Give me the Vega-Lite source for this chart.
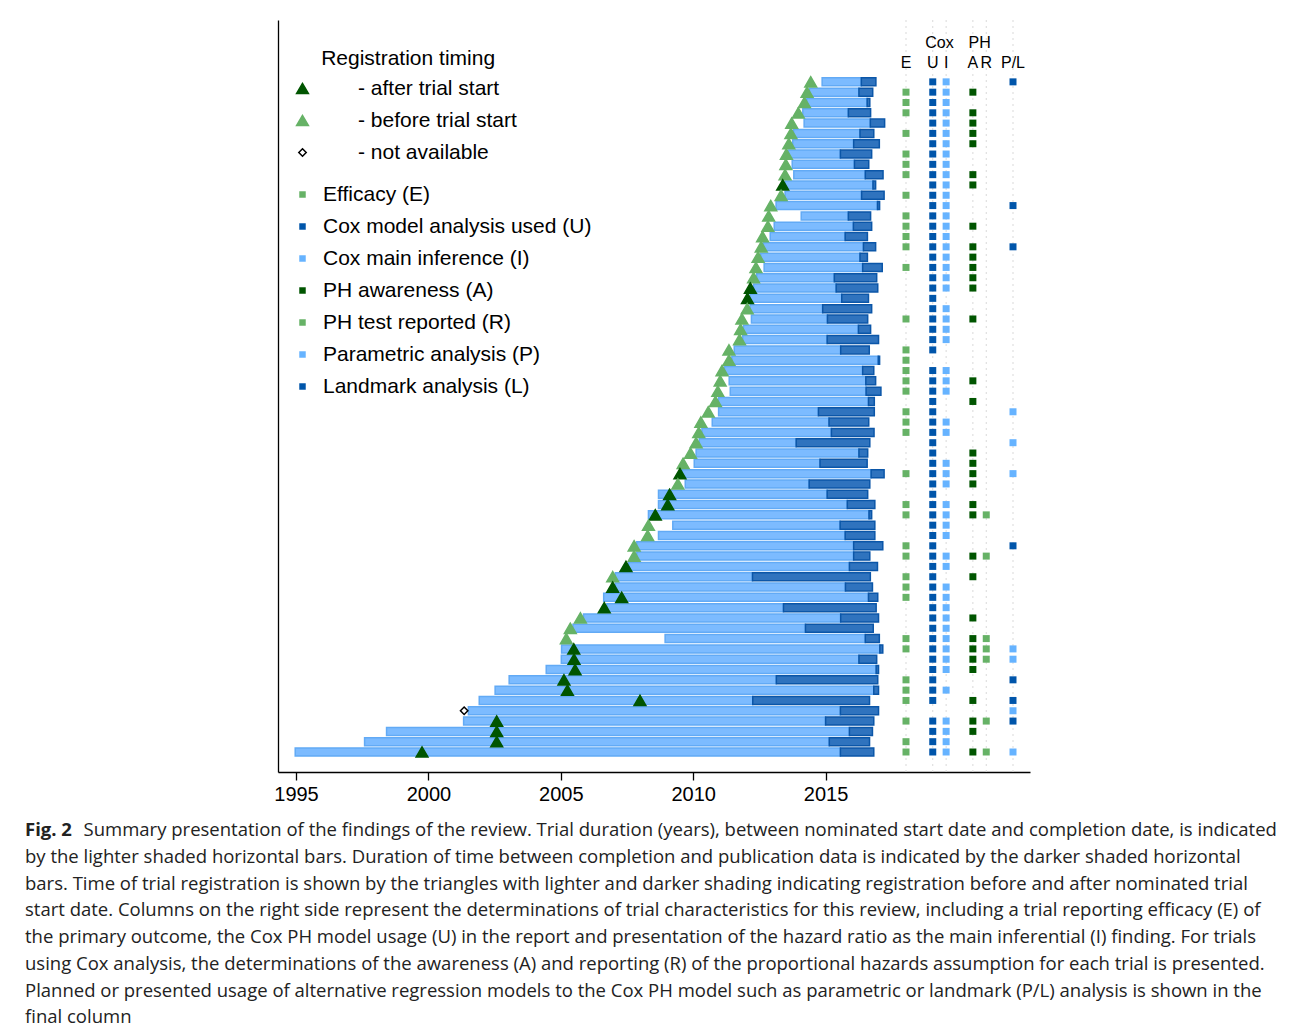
{
  "$schema": "https://vega.github.io/schema/vega-lite/v6.json",
  "width": 752,
  "height": 752,
  "autosize": {"type": "none"},
  "padding": {"left": 278, "top": 20, "right": 262, "bottom": 261},
  "config": {
    "view": {"stroke": null},
    "font": "Liberation Sans"
  },
  "title": {
    "text": "Fig. 2",
    "subtitle": [
      "\u200b\u2003\u2003\u2003\u2006Summary presentation of the findings of the review. Trial duration (years), between nominated start date and completion date, is indicated",
      "by the lighter shaded horizontal bars. Duration of time between completion and publication data is indicated by the darker shaded horizontal",
      "bars. Time of trial registration is shown by the triangles with lighter and darker shading indicating registration before and after nominated trial",
      "start date. Columns on the right side represent the determinations of trial characteristics for this review, including a trial reporting efficacy (E) of",
      "the primary outcome, the Cox PH model usage (U) in the report and presentation of the hazard ratio as the main inferential (I) finding. For trials",
      "using Cox analysis, the determinations of the awareness (A) and reporting (R) of the proportional hazards assumption for each trial is presented.",
      "Planned or presented usage of alternative regression models to the Cox PH model such as parametric or landmark (P/L) analysis is shown in the",
      "final column"
    ],
    "orient": "bottom",
    "anchor": "start",
    "frame": "group",
    "dx": -253,
    "offset": 17,
    "font": "Open Sans",
    "fontSize": 18.5,
    "fontWeight": "bold",
    "color": "#222222",
    "subtitleFont": "Open Sans",
    "subtitleFontSize": 18.5,
    "subtitleColor": "#222222",
    "subtitleLineHeight": 26.75,
    "subtitlePadding": -18.5
  },
  "datasets": {
    "trials": [
      {"t":1,"s":2014.87,"c":2016.35,"p":2016.9,"r":2014.44,"reg":"before"},
      {"t":2,"s":2014.39,"c":2016.26,"p":2016.78,"r":2014.3,"reg":"before"},
      {"t":3,"s":2014.29,"c":2016.57,"p":2016.67,"r":2014.2,"reg":"before"},
      {"t":4,"s":2014.14,"c":2015.86,"p":2016.7,"r":2013.97,"reg":"before"},
      {"t":5,"s":2014.19,"c":2016.69,"p":2017.23,"r":2013.72,"reg":"before"},
      {"t":6,"s":2013.79,"c":2016.3,"p":2016.82,"r":2013.69,"reg":"before"},
      {"t":7,"s":2013.76,"c":2016.06,"p":2017.03,"r":2013.61,"reg":"before"},
      {"t":8,"s":2013.6,"c":2015.56,"p":2016.74,"r":2013.52,"reg":"before"},
      {"t":9,"s":2013.74,"c":2016.09,"p":2016.63,"r":2013.5,"reg":"before"},
      {"t":10,"s":2013.8,"c":2016.5,"p":2017.17,"r":2013.47,"reg":"before"},
      {"t":11,"s":2013.47,"c":2016.79,"p":2016.89,"r":2013.38,"reg":"after"},
      {"t":12,"s":2013.47,"c":2016.36,"p":2017.21,"r":2013.32,"reg":"before"},
      {"t":13,"s":2013.13,"c":2016.96,"p":2017.04,"r":2012.93,"reg":"before"},
      {"t":14,"s":2014.08,"c":2015.86,"p":2016.7,"r":2012.85,"reg":"before"},
      {"t":15,"s":2013.06,"c":2016.05,"p":2016.74,"r":2012.82,"reg":"before"},
      {"t":16,"s":2012.91,"c":2015.74,"p":2016.58,"r":2012.62,"reg":"before"},
      {"t":17,"s":2012.65,"c":2016.43,"p":2016.89,"r":2012.57,"reg":"before"},
      {"t":18,"s":2012.55,"c":2016.3,"p":2016.58,"r":2012.45,"reg":"before"},
      {"t":19,"s":2012.68,"c":2016.4,"p":2017.14,"r":2012.37,"reg":"before"},
      {"t":20,"s":2012.4,"c":2015.33,"p":2016.93,"r":2012.28,"reg":"before"},
      {"t":21,"s":2012.28,"c":2015.4,"p":2016.97,"r":2012.16,"reg":"after"},
      {"t":22,"s":2012.15,"c":2015.61,"p":2016.62,"r":2012.05,"reg":"after"},
      {"t":23,"s":2012.15,"c":2014.89,"p":2016.74,"r":2012.04,"reg":"before"},
      {"t":24,"s":2012.2,"c":2015.07,"p":2016.59,"r":2011.84,"reg":"before"},
      {"t":25,"s":2011.9,"c":2016.24,"p":2016.7,"r":2011.79,"reg":"before"},
      {"t":26,"s":2011.87,"c":2015.06,"p":2017.0,"r":2011.75,"reg":"before"},
      {"t":27,"s":2011.55,"c":2015.57,"p":2016.65,"r":2011.35,"reg":"before"},
      {"t":28,"s":2011.46,"c":2016.99,"p":2017.04,"r":2011.35,"reg":"before"},
      {"t":29,"s":2011.18,"c":2016.4,"p":2016.82,"r":2011.09,"reg":"before"},
      {"t":30,"s":2011.36,"c":2016.52,"p":2016.89,"r":2011.02,"reg":"before"},
      {"t":31,"s":2011.4,"c":2016.53,"p":2017.09,"r":2010.93,"reg":"before"},
      {"t":32,"s":2010.96,"c":2016.62,"p":2016.84,"r":2010.84,"reg":"before"},
      {"t":33,"s":2010.96,"c":2014.73,"p":2016.84,"r":2010.57,"reg":"before"},
      {"t":34,"s":2010.72,"c":2015.13,"p":2016.63,"r":2010.29,"reg":"before"},
      {"t":35,"s":2010.33,"c":2015.22,"p":2016.83,"r":2010.21,"reg":"before"},
      {"t":36,"s":2010.23,"c":2013.89,"p":2016.67,"r":2010.11,"reg":"before"},
      {"t":37,"s":2010.11,"c":2016.26,"p":2016.59,"r":2009.9,"reg":"before"},
      {"t":38,"s":2010.04,"c":2014.79,"p":2016.57,"r":2009.62,"reg":"before"},
      {"t":39,"s":2009.57,"c":2016.72,"p":2017.21,"r":2009.5,"reg":"after"},
      {"t":40,"s":2009.7,"c":2014.38,"p":2016.67,"r":2009.42,"reg":"before"},
      {"t":41,"s":2008.69,"c":2015.06,"p":2016.59,"r":2009.11,"reg":"after"},
      {"t":42,"s":2008.69,"c":2015.82,"p":2016.86,"r":2009.04,"reg":"after"},
      {"t":43,"s":2008.31,"c":2016.64,"p":2016.74,"r":2008.57,"reg":"after"},
      {"t":44,"s":2009.23,"c":2015.55,"p":2016.86,"r":2008.31,"reg":"before"},
      {"t":45,"s":2008.69,"c":2015.74,"p":2016.86,"r":2008.28,"reg":"before"},
      {"t":46,"s":2007.87,"c":2016.06,"p":2017.16,"r":2007.77,"reg":"before"},
      {"t":47,"s":2007.87,"c":2016.06,"p":2016.67,"r":2007.77,"reg":"before"},
      {"t":48,"s":2007.56,"c":2015.9,"p":2016.96,"r":2007.46,"reg":"after"},
      {"t":49,"s":2007.06,"c":2012.24,"p":2016.69,"r":2006.96,"reg":"before"},
      {"t":50,"s":2007.06,"c":2015.75,"p":2016.77,"r":2006.96,"reg":"after"},
      {"t":51,"s":2006.62,"c":2016.62,"p":2016.97,"r":2007.3,"reg":"after"},
      {"t":52,"s":2006.74,"c":2013.41,"p":2016.91,"r":2006.64,"reg":"after"},
      {"t":53,"s":2005.86,"c":2015.57,"p":2017.0,"r":2005.74,"reg":"before"},
      {"t":54,"s":2005.46,"c":2014.24,"p":2016.8,"r":2005.36,"reg":"before"},
      {"t":55,"s":2008.94,"c":2016.5,"p":2017.03,"r":2005.21,"reg":"before"},
      {"t":56,"s":2005.03,"c":2017.05,"p":2017.16,"r":2005.49,"reg":"after"},
      {"t":57,"s":2005.02,"c":2016.26,"p":2016.93,"r":2005.5,"reg":"after"},
      {"t":58,"s":2004.45,"c":2016.91,"p":2017.0,"r":2005.54,"reg":"after"},
      {"t":59,"s":2003.05,"c":2013.14,"p":2016.97,"r":2005.12,"reg":"after"},
      {"t":60,"s":2002.52,"c":2016.82,"p":2017.0,"r":2005.25,"reg":"after"},
      {"t":61,"s":2001.92,"c":2012.25,"p":2016.66,"r":2007.99,"reg":"after"},
      {"t":62,"s":2001.51,"c":2015.56,"p":2017.0,"r":2001.35,"reg":"na"},
      {"t":63,"s":2001.33,"c":2015.0,"p":2016.82,"r":2002.58,"reg":"after"},
      {"t":64,"s":1998.42,"c":2015.9,"p":2016.77,"r":2002.58,"reg":"after"},
      {"t":65,"s":1997.59,"c":2015.14,"p":2016.66,"r":2002.58,"reg":"after"},
      {"t":66,"s":1994.97,"c":2015.56,"p":2016.82,"r":1999.76,"reg":"after"}
    ],
    "flagtypes": [
      {"f":"E","col":"E","name":"Efficacy (E)"},
      {"f":"U","col":"U","name":"Cox model analysis used (U)"},
      {"f":"I","col":"I","name":"Cox main inference (I)"},
      {"f":"A","col":"A","name":"PH awareness (A)"},
      {"f":"R","col":"R","name":"PH test reported (R)"},
      {"f":"P","col":"P/L","name":"Parametric analysis (P)"},
      {"f":"L","col":"P/L","name":"Landmark analysis (L)"}
    ],
    "columns": [
      {"col":"E"},{"col":"U"},{"col":"I"},{"col":"A"},{"col":"R"},{"col":"P/L"}
    ],
    "groups": [
      {"group":"Cox","col":"U"},{"group":"PH","col":"A"}
    ],
    "flags": [
      {"t":1,"f":"U"},{"t":1,"f":"I"},{"t":1,"f":"L"},
      {"t":2,"f":"E"},{"t":2,"f":"U"},{"t":2,"f":"I"},{"t":2,"f":"A"},
      {"t":3,"f":"E"},{"t":3,"f":"U"},{"t":3,"f":"I"},
      {"t":4,"f":"E"},{"t":4,"f":"U"},{"t":4,"f":"I"},{"t":4,"f":"A"},
      {"t":5,"f":"U"},{"t":5,"f":"I"},{"t":5,"f":"A"},
      {"t":6,"f":"E"},{"t":6,"f":"U"},{"t":6,"f":"I"},{"t":6,"f":"A"},
      {"t":7,"f":"U"},{"t":7,"f":"I"},{"t":7,"f":"A"},
      {"t":8,"f":"E"},{"t":8,"f":"U"},{"t":8,"f":"I"},
      {"t":9,"f":"E"},{"t":9,"f":"U"},{"t":9,"f":"I"},
      {"t":10,"f":"E"},{"t":10,"f":"U"},{"t":10,"f":"I"},{"t":10,"f":"A"},
      {"t":11,"f":"U"},{"t":11,"f":"I"},{"t":11,"f":"A"},
      {"t":12,"f":"E"},{"t":12,"f":"U"},{"t":12,"f":"I"},
      {"t":13,"f":"U"},{"t":13,"f":"I"},{"t":13,"f":"L"},
      {"t":14,"f":"E"},{"t":14,"f":"U"},{"t":14,"f":"I"},
      {"t":15,"f":"E"},{"t":15,"f":"U"},{"t":15,"f":"I"},{"t":15,"f":"A"},
      {"t":16,"f":"E"},{"t":16,"f":"U"},{"t":16,"f":"I"},
      {"t":17,"f":"E"},{"t":17,"f":"U"},{"t":17,"f":"I"},{"t":17,"f":"A"},{"t":17,"f":"L"},
      {"t":18,"f":"U"},{"t":18,"f":"I"},{"t":18,"f":"A"},
      {"t":19,"f":"E"},{"t":19,"f":"U"},{"t":19,"f":"I"},{"t":19,"f":"A"},
      {"t":20,"f":"U"},{"t":20,"f":"I"},{"t":20,"f":"A"},
      {"t":21,"f":"U"},{"t":21,"f":"I"},{"t":21,"f":"A"},
      {"t":22,"f":"U"},
      {"t":23,"f":"U"},{"t":23,"f":"I"},
      {"t":24,"f":"E"},{"t":24,"f":"U"},{"t":24,"f":"I"},{"t":24,"f":"A"},
      {"t":25,"f":"U"},{"t":25,"f":"I"},
      {"t":26,"f":"U"},{"t":26,"f":"I"},
      {"t":27,"f":"E"},{"t":27,"f":"U"},
      {"t":28,"f":"E"},
      {"t":29,"f":"E"},{"t":29,"f":"U"},{"t":29,"f":"I"},
      {"t":30,"f":"E"},{"t":30,"f":"U"},{"t":30,"f":"I"},{"t":30,"f":"A"},
      {"t":31,"f":"E"},{"t":31,"f":"U"},{"t":31,"f":"I"},
      {"t":32,"f":"U"},{"t":32,"f":"A"},
      {"t":33,"f":"E"},{"t":33,"f":"U"},{"t":33,"f":"P"},
      {"t":34,"f":"E"},{"t":34,"f":"U"},{"t":34,"f":"I"},
      {"t":35,"f":"E"},{"t":35,"f":"U"},{"t":35,"f":"I"},
      {"t":36,"f":"U"},{"t":36,"f":"P"},
      {"t":37,"f":"U"},{"t":37,"f":"A"},
      {"t":38,"f":"U"},{"t":38,"f":"I"},{"t":38,"f":"A"},
      {"t":39,"f":"E"},{"t":39,"f":"U"},{"t":39,"f":"I"},{"t":39,"f":"A"},{"t":39,"f":"P"},
      {"t":40,"f":"U"},{"t":40,"f":"I"},{"t":40,"f":"A"},
      {"t":41,"f":"U"},
      {"t":42,"f":"E"},{"t":42,"f":"U"},{"t":42,"f":"I"},{"t":42,"f":"A"},
      {"t":43,"f":"E"},{"t":43,"f":"U"},{"t":43,"f":"I"},{"t":43,"f":"A"},{"t":43,"f":"R"},
      {"t":44,"f":"U"},{"t":44,"f":"I"},
      {"t":45,"f":"U"},{"t":45,"f":"I"},
      {"t":46,"f":"E"},{"t":46,"f":"U"},{"t":46,"f":"L"},
      {"t":47,"f":"E"},{"t":47,"f":"U"},{"t":47,"f":"I"},{"t":47,"f":"A"},{"t":47,"f":"R"},
      {"t":48,"f":"U"},{"t":48,"f":"I"},
      {"t":49,"f":"E"},{"t":49,"f":"U"},{"t":49,"f":"A"},
      {"t":50,"f":"E"},{"t":50,"f":"U"},{"t":50,"f":"I"},
      {"t":51,"f":"E"},{"t":51,"f":"U"},{"t":51,"f":"I"},
      {"t":52,"f":"U"},{"t":52,"f":"I"},
      {"t":53,"f":"U"},{"t":53,"f":"I"},{"t":53,"f":"A"},
      {"t":54,"f":"U"},{"t":54,"f":"I"},
      {"t":55,"f":"E"},{"t":55,"f":"U"},{"t":55,"f":"I"},{"t":55,"f":"A"},{"t":55,"f":"R"},
      {"t":56,"f":"E"},{"t":56,"f":"U"},{"t":56,"f":"I"},{"t":56,"f":"A"},{"t":56,"f":"R"},{"t":56,"f":"P"},
      {"t":57,"f":"U"},{"t":57,"f":"I"},{"t":57,"f":"A"},{"t":57,"f":"R"},{"t":57,"f":"P"},
      {"t":58,"f":"U"},{"t":58,"f":"I"},{"t":58,"f":"A"},
      {"t":59,"f":"E"},{"t":59,"f":"U"},{"t":59,"f":"L"},
      {"t":60,"f":"E"},{"t":60,"f":"U"},{"t":60,"f":"I"},
      {"t":61,"f":"E"},{"t":61,"f":"U"},{"t":61,"f":"A"},{"t":61,"f":"L"},
      {"t":62,"f":"P"},
      {"t":63,"f":"E"},{"t":63,"f":"U"},{"t":63,"f":"I"},{"t":63,"f":"A"},{"t":63,"f":"R"},{"t":63,"f":"L"},
      {"t":64,"f":"U"},{"t":64,"f":"I"},{"t":64,"f":"A"},
      {"t":65,"f":"E"},{"t":65,"f":"U"},{"t":65,"f":"I"},
      {"t":66,"f":"E"},{"t":66,"f":"U"},{"t":66,"f":"I"},{"t":66,"f":"A"},{"t":66,"f":"R"},{"t":66,"f":"P"}
    ]
  },
  "layer": [
    {
      "data": {"name": "trials"},
      "layer": [
        {
          "mark": {"type": "bar", "orient": "horizontal", "size": 8, "fill": "#7cbbff", "stroke": "#62aaf5", "strokeWidth": 1.5},
          "encoding": {
            "x": {"field": "s", "type": "quantitative",
              "scale": {"domain": [1994.32, 2022.72], "nice": false, "zero": false, "padding": 0},
              "axis": {"values": [1995, 2000, 2005, 2010, 2015], "format": "d", "title": null, "grid": false,
                "labelFont": "Liberation Sans", "labelFontSize": 20, "labelColor": "#000000",
                "tickColor": "#000000", "tickSize": 8, "tickWidth": 1.3,
                "domainColor": "#000000", "domainWidth": 1.3, "labelPadding": 4, "labelFlush": false}},
            "x2": {"field": "c"},
            "y": {"field": "t", "type": "quantitative",
              "scale": {"domain": [-5, 67.94], "reverse": true, "nice": false, "zero": false, "padding": 0},
              "axis": {"title": null, "labels": false, "ticks": false, "grid": false,
                "domainColor": "#000000", "domainWidth": 1.3}}
          }
        },
        {
          "mark": {"type": "bar", "orient": "horizontal", "size": 8, "fill": "#2f73be", "stroke": "#0b56a8", "strokeWidth": 1.5},
          "encoding": {
            "x": {"field": "c", "type": "quantitative"},
            "x2": {"field": "p"},
            "y": {"field": "t", "type": "quantitative"}
          }
        },
        {
          "mark": {"type": "point", "filled": true, "strokeWidth": 1.5, "opacity": 1},
          "encoding": {
            "x": {"field": "r", "type": "quantitative"},
            "y": {"field": "t", "type": "quantitative"},
            "fill": {"field": "reg", "type": "ordinal",
              "scale": {"domain": ["after", "before", "na"], "range": ["#005500", "#66b266", "#ffffff"]},
              "legend": {"title": "\u200b\u00a0\u00a0\u00a0\u00a0\u00a0Registration timing", "orient": "none", "legendX": 14, "legendY": 28,
                "titleFont": "Liberation Sans", "titleFontSize": 21, "titleFontWeight": "normal", "titleColor": "#000000",
                "titleAnchor": "start", "titlePadding": 9, "titleLimit": 600,
                "labelExpr": "datum.label == 'after' ? '- after trial start' : datum.label == 'before' ? '- before trial start' : '- not available'",
                "labelFont": "Liberation Sans", "labelFontSize": 21, "labelColor": "#000000", "labelOffset": 45, "labelLimit": 500,
                "rowPadding": 10, "padding": 0, "symbolStrokeWidth": 1.5}},
            "stroke": {"field": "reg", "type": "ordinal",
              "scale": {"domain": ["after", "before", "na"], "range": ["#005500", "#66b266", "#000000"]},
              "legend": {"title": "\u200b\u00a0\u00a0\u00a0\u00a0\u00a0Registration timing", "orient": "none", "legendX": 14, "legendY": 28,
                "titleFont": "Liberation Sans", "titleFontSize": 21, "titleFontWeight": "normal", "titleColor": "#000000",
                "titleAnchor": "start", "titlePadding": 9, "titleLimit": 600,
                "labelExpr": "datum.label == 'after' ? '- after trial start' : datum.label == 'before' ? '- before trial start' : '- not available'",
                "labelFont": "Liberation Sans", "labelFontSize": 21, "labelColor": "#000000", "labelOffset": 45, "labelLimit": 500,
                "rowPadding": 10, "padding": 0, "symbolStrokeWidth": 1.5}},
            "shape": {"field": "reg", "type": "ordinal",
              "scale": {"domain": ["after", "before", "na"], "range": ["triangle-up", "triangle-up", "diamond"]},
              "legend": {"title": "\u200b\u00a0\u00a0\u00a0\u00a0\u00a0Registration timing", "orient": "none", "legendX": 14, "legendY": 28,
                "titleFont": "Liberation Sans", "titleFontSize": 21, "titleFontWeight": "normal", "titleColor": "#000000",
                "titleAnchor": "start", "titlePadding": 9, "titleLimit": 600,
                "labelExpr": "datum.label == 'after' ? '- after trial start' : datum.label == 'before' ? '- before trial start' : '- not available'",
                "labelFont": "Liberation Sans", "labelFontSize": 21, "labelColor": "#000000", "labelOffset": 45, "labelLimit": 500,
                "rowPadding": 10, "padding": 0, "symbolStrokeWidth": 1.5}},
            "size": {"field": "reg", "type": "ordinal",
              "scale": {"type": "ordinal", "domain": ["after", "before", "na"], "range": [140, 140, 55]},
              "legend": {"title": "\u200b\u00a0\u00a0\u00a0\u00a0\u00a0Registration timing", "orient": "none", "legendX": 14, "legendY": 28,
                "titleFont": "Liberation Sans", "titleFontSize": 21, "titleFontWeight": "normal", "titleColor": "#000000",
                "titleAnchor": "start", "titlePadding": 9, "titleLimit": 600,
                "labelExpr": "datum.label == 'after' ? '- after trial start' : datum.label == 'before' ? '- before trial start' : '- not available'",
                "labelFont": "Liberation Sans", "labelFontSize": 21, "labelColor": "#000000", "labelOffset": 45, "labelLimit": 500,
                "rowPadding": 10, "padding": 0, "symbolStrokeWidth": 1.5}}
          }
        }
      ]
    },
    {
      "layer": [
        {
          "data": {"name": "columns"},
          "mark": {"type": "rule", "color": "#d9d9d9", "strokeDash": [2, 4], "strokeWidth": 1},
          "encoding": {
            "x": {"field": "col", "type": "nominal",
              "scale": {"type": "point", "domain": ["E", "g1", "U", "I", "g2", "A", "R", "g3", "P/L"], "range": [628, 735], "padding": 0},
              "axis": null}
          }
        },
        {
          "data": {"name": "columns"},
          "mark": {"type": "text", "font": "Liberation Sans", "fontSize": 16, "color": "#000000", "baseline": "middle", "align": "center"},
          "encoding": {
            "x": {"field": "col", "type": "nominal", "axis": null},
            "y": {"datum": -0.83, "type": "quantitative"},
            "text": {"field": "col"}
          }
        },
        {
          "data": {"name": "groups"},
          "mark": {"type": "text", "font": "Liberation Sans", "fontSize": 16, "color": "#000000", "baseline": "middle", "align": "center", "dx": 6.7},
          "encoding": {
            "x": {"field": "col", "type": "nominal", "axis": null},
            "y": {"datum": -2.78, "type": "quantitative"},
            "text": {"field": "group"}
          }
        },
        {
          "data": {"name": "flags"},
          "transform": [
            {"lookup": "f", "from": {"data": {"name": "flagtypes"}, "key": "f", "fields": ["col", "name"]}}
          ],
          "mark": {"type": "square", "size": 49, "filled": true, "opacity": 1},
          "encoding": {
            "x": {"field": "col", "type": "nominal", "axis": null},
            "y": {"field": "t", "type": "quantitative"},
            "color": {"field": "name", "type": "nominal",
              "scale": {
                "domain": ["Efficacy (E)", "Cox model analysis used (U)", "Cox main inference (I)", "PH awareness (A)", "PH test reported (R)", "Parametric analysis (P)", "Landmark analysis (L)"],
                "range": ["#66b266", "#0055aa", "#66b3ff", "#005500", "#66b266", "#66b3ff", "#0055aa"]},
              "legend": {"title": null, "orient": "none", "legendX": 14, "legendY": 164,
                "symbolType": "square", "symbolSize": 42, "symbolStrokeWidth": 0,
                "labelFont": "Liberation Sans", "labelFontSize": 21, "labelColor": "#000000", "labelOffset": 10, "labelLimit": 500,
                "rowPadding": 10, "padding": 0}}
          }
        }
      ]
    }
  ],
  "resolve": {"scale": {"x": "independent"}}
}
